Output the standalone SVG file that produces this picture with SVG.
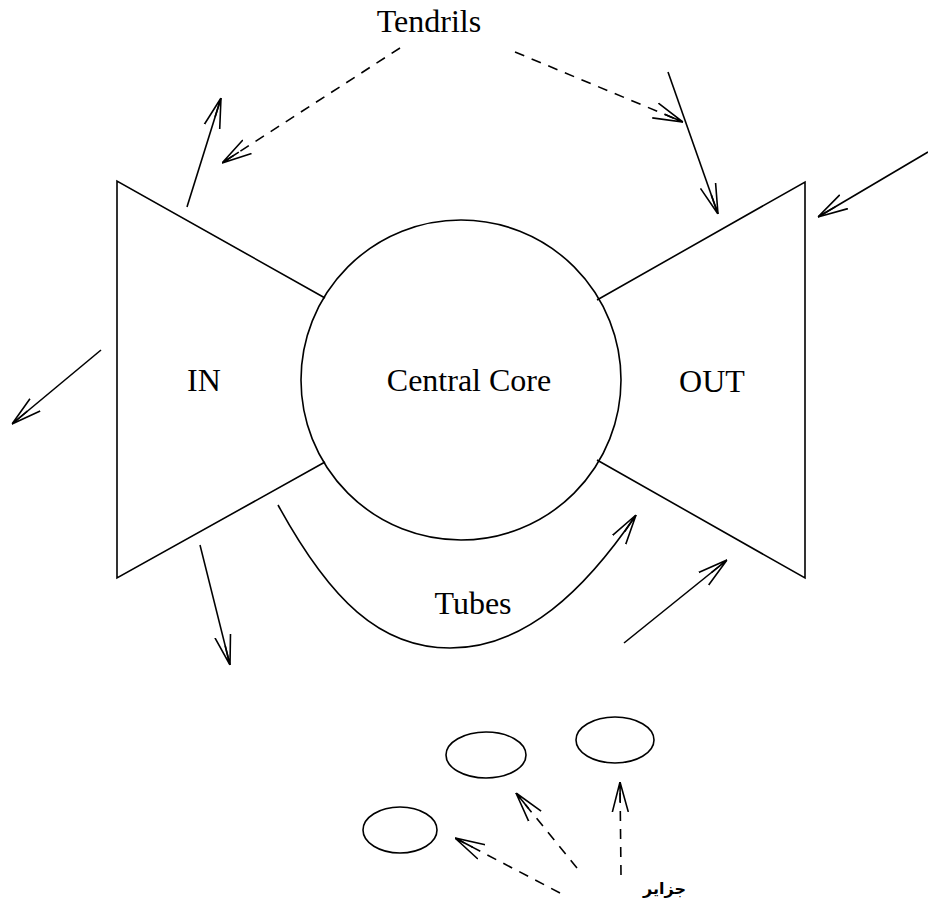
<svg xmlns="http://www.w3.org/2000/svg" width="928" height="899" viewBox="0 0 928 899">
<defs>
<style>
.s{fill:none;stroke:#000;stroke-width:1.6}
.d{fill:none;stroke:#000;stroke-width:1.6;stroke-dasharray:10,8}
.t{font-family:"Liberation Serif",serif;font-size:32px;fill:#000;text-anchor:middle}
</style>
<marker id="b" viewBox="0 0 30 20" refX="30" refY="10" markerWidth="30" markerHeight="20" markerUnits="userSpaceOnUse" orient="auto">
<path d="M0,2 L30,10 L0,18 M10,10 L30,10" fill="none" stroke="#000" stroke-width="1.6"/>
</marker>
</defs>
<rect width="928" height="899" fill="#fff"/>
<g id="in"><path class="s" d="M325,298 L117,181 L117,578 L325,462"/><text class="t" x="204" y="391">IN</text></g>
<g id="out"><path class="s" d="M597,300 L805,182 L805,578 L597,460"/><text class="t" x="712" y="392">OUT</text></g>
<g id="core"><circle class="s" cx="461" cy="380" r="160"/><text class="t" x="469" y="391">Central Core</text></g>
<g id="tendrils-label"><text class="t" x="429" y="32">Tendrils</text></g>
<g id="tubes-label"><text class="t" x="473" y="614">Tubes</text></g>
<g id="island1"><ellipse class="s" cx="400" cy="830" rx="37" ry="23"/></g>
<g id="island2"><ellipse class="s" cx="486" cy="755" rx="40" ry="23"/></g>
<g id="island3"><ellipse class="s" cx="615" cy="740" rx="39" ry="23"/></g>
<g id="islands-label"><text x="686" y="894" style="font-family:'DejaVu Sans','Noto Sans',sans-serif;font-size:16px;font-weight:bold;text-anchor:start" direction="rtl">جزایر</text></g>
<g id="connectors">
<path class="s" d="M278,505 C330,600 380,648 450,648 C525,648 585,590 636,515" marker-end="url(#b)"/>
<line class="s" x1="187" y1="207" x2="221" y2="98" marker-end="url(#b)"/>
<line class="d" x1="400" y1="48" x2="222" y2="163" marker-end="url(#b)"/>
<line class="d" x1="515" y1="52" x2="683" y2="122" marker-end="url(#b)"/>
<line class="s" x1="668" y1="72" x2="718" y2="214" marker-end="url(#b)"/>
<line class="s" x1="928" y1="152" x2="818" y2="217" marker-end="url(#b)"/>
<line class="s" x1="101" y1="350" x2="12" y2="424" marker-end="url(#b)"/>
<line class="s" x1="200" y1="545" x2="230" y2="665" marker-end="url(#b)"/>
<line class="s" x1="624" y1="643" x2="727" y2="560" marker-end="url(#b)"/>
<line class="d" x1="560" y1="893" x2="455" y2="838" marker-end="url(#b)"/>
<line class="d" x1="577" y1="868" x2="516" y2="793" marker-end="url(#b)"/>
<line class="d" x1="621" y1="875" x2="620" y2="782" marker-end="url(#b)"/>
</g>
</svg>
